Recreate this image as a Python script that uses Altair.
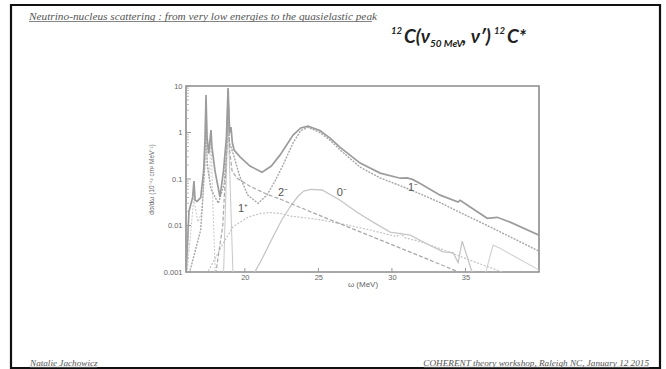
import altair as alt
import pandas as pd

# ---------------- data ----------------
# total cross section
tot_x = [16.0, 16.2, 16.45, 16.54, 16.62, 16.75, 17.0, 17.2, 17.3, 17.36, 17.43, 17.55, 17.65, 17.70, 17.76,
         17.97, 18.31, 18.55, 18.75, 18.86, 18.97, 19.06, 19.15, 19.27, 19.67, 20.35, 21.17, 21.8, 22.4, 23.28,
         23.8, 24.3, 25.1, 25.8, 26.48, 27.84, 29.2, 30.56, 31.03, 31.4, 31.92, 33.28, 34.5, 34.64, 35.32,
         36.48, 37.16, 38.04, 40.0]
tot_y = [0.0008, 0.02, 0.04, 0.09, 0.035, 0.033, 0.04, 0.15, 0.8, 6.4, 0.8, 0.35, 0.8, 1.13, 0.5,
         0.15, 0.041, 0.15, 0.8, 9.0, 1.0, 1.31, 0.6, 0.42, 0.3, 0.19, 0.14, 0.19, 0.33, 0.88,
         1.25, 1.37, 1.1, 0.76, 0.48, 0.22, 0.134, 0.104, 0.106, 0.098, 0.08, 0.045, 0.032, 0.035, 0.025,
         0.0143, 0.015, 0.0118, 0.0062]

# 1- multipole
m1_x = [16.0, 16.5, 17.0, 17.28, 17.36, 17.44, 17.7, 18.2, 18.6, 18.78, 18.86, 18.94, 19.1, 19.27, 19.67,
        20.2, 20.9, 21.5, 22.05, 22.6, 23.28, 23.8, 24.3, 25.1, 25.8, 26.48, 27.84, 29.2, 30.56, 31.92,
        33.28, 34.64, 36.48, 38.04, 40.0]
m1_y = [0.0005, 0.002, 0.008, 0.2, 5.5, 0.2, 0.06, 0.03, 0.08, 0.5, 8.0, 0.6, 0.45, 0.3, 0.11,
        0.045, 0.03, 0.045, 0.09, 0.2, 0.6, 1.1, 1.3, 1.0, 0.68, 0.42, 0.18, 0.105, 0.072, 0.048,
        0.031, 0.019, 0.0100, 0.0057, 0.0028]

# 2- multipole
m2_x = [17.9, 18.5, 18.75, 18.86, 18.97, 19.13, 19.47, 20.35, 21.5, 22.6, 23.07, 25.8, 28.5, 31.92, 34.6, 36.0]
m2_y = [0.0005, 0.01, 0.3, 8.5, 0.4, 0.15, 0.104, 0.07, 0.047, 0.035, 0.030, 0.0133, 0.006, 0.0022, 0.00098, 0.0006]

# 0- multipole
z_x = [20.6, 21.2, 21.9, 22.5, 23.07, 23.6, 24.0, 24.5, 25.25, 26.48, 27.63, 28.72, 29.88, 31.24, 32.4,
       33.48, 34.16, 34.5, 34.78, 35.6]
z_y = [0.0009, 0.002, 0.0056, 0.013, 0.025, 0.042, 0.055, 0.06, 0.058, 0.035, 0.0193, 0.0118, 0.0072, 0.0062, 0.004,
       0.0027, 0.0026, 0.0016, 0.0046, 0.0007]

# 1+ multipole
p1_x = [17.4, 18.0, 18.5, 19.2, 20.2, 21.0, 21.7, 22.5, 23.07, 25.0, 26.8, 28.5, 30.3, 30.6, 30.85, 31.92,
        33.5, 35.5, 37.5, 39.5]
p1_y = [0.0009, 0.002, 0.004, 0.0094, 0.015, 0.018, 0.019, 0.018, 0.016, 0.0135, 0.0105, 0.008, 0.0058, 0.0068,
        0.0055, 0.0045, 0.003, 0.0017, 0.001, 0.0006]

# other multipoles (low-energy resonances and high-energy structure)
a_x = [16.05, 16.3, 16.5, 16.54, 16.58, 16.8, 17.1, 17.3, 17.36, 17.42, 17.6, 17.7, 17.8, 18.0]
a_y = [0.0008, 0.006, 0.03, 0.08, 0.03, 0.012, 0.02, 0.3, 5.0, 0.3, 0.1, 1.0, 0.05, 0.0008]
b_x = [18.55, 18.8, 18.86, 18.92, 19.2]
b_y = [0.0008, 0.5, 8.0, 0.5, 0.0008]
c_x = [36.3, 36.88, 37.3, 40.0]
c_y = [0.0008, 0.0038, 0.0033, 0.0011]

# curve labels
lab_text = ["2\u207b", "0\u207b", "1\u207a", "1\u207b"]
lab_x = [22.6, 26.6, 19.88, 31.44]
lab_y = [0.049, 0.049, 0.0223, 0.064]

x_ticks = [20, 25, 30, 35]
y_ticks = [0.001, 0.01, 0.1, 1, 10]
y_minor = [m * d for d in [0.001, 0.01, 0.1, 1] for m in range(2, 10)]

# ---------------- chart ----------------
W, H = 353, 186
PL, PT = 186, 86


def df(xs, ys):
    return pd.DataFrame({"omega": xs, "sigma": ys})


xs = alt.Scale(domain=[16, 40], nice=False, zero=False)
ys = alt.Scale(type="log", domain=[0.001, 10], nice=False)

X = alt.X("omega:Q", scale=xs,
          axis=alt.Axis(values=x_ticks, title="\u03c9 (MeV)", format="d", domain=False, ticks=False,
                        grid=False, labelFontSize=7.5, labelColor="#666", labelPadding=1,
                        titleFontSize=8, titleColor="#666", titleFontWeight="normal", titlePadding=0,
                        labelFont="Liberation Sans", titleFont="Liberation Sans"))
Y = alt.Y("sigma:Q", scale=ys,
          axis=alt.Axis(values=y_ticks, title="d\u03c3/d\u03c9 (10\u207b\u2074\u00b2 cm\u00b2 MeV\u207b\u00b9)",
                        format="~g", domain=False, ticks=False, grid=False, labelFontSize=7.5,
                        labelColor="#666", labelPadding=4, titleFontSize=6.5, titleColor="#666",
                        titleFontWeight="normal", titlePadding=9,
                        labelFont="Liberation Sans", titleFont="Liberation Sans"))


def line(xv, yv, color, width, dash=None):
    kw = dict(color=color, strokeWidth=width, clip=True, interpolate="linear")
    if dash:
        kw["strokeDash"] = dash
    return alt.Chart(df(xv, yv)).mark_line(**kw).encode(x=X, y=Y)


layers = [
    line(a_x, a_y, "#c8c8c8", 1.0, [2, 1.5]),
    line(b_x, b_y, "#c8c8c8", 1.0),
    line(c_x, c_y, "#cfcfcf", 1.1),
    line(p1_x, p1_y, "#c4c4c4", 1.2, [2, 1.5]),
    line(z_x, z_y, "#c6c6c6", 1.3),
    line(m2_x, m2_y, "#a8a8a8", 1.2, [4, 2]),
    line(m1_x, m1_y, "#a6a6a6", 1.4, [2, 1.2]),
    line(tot_x, tot_y, "#9c9c9c", 1.7),
]

labels = alt.Chart(pd.DataFrame({"omega": lab_x, "sigma": lab_y, "t": lab_text})).mark_text(
    font="Liberation Sans", fontSize=11, color="#555", align="center", baseline="middle"
).encode(x=X, y=Y, text="t:N")

# inside ticks
ymaj = alt.Chart(pd.DataFrame({"sigma": y_ticks})).mark_rule(color="#999", strokeWidth=1).encode(
    y=alt.Y("sigma:Q", scale=ys), x=alt.value(0), x2=alt.value(5))
ymin = alt.Chart(pd.DataFrame({"sigma": y_minor})).mark_rule(color="#aaa", strokeWidth=0.8).encode(
    y=alt.Y("sigma:Q", scale=ys), x=alt.value(0), x2=alt.value(3))
xmaj = alt.Chart(pd.DataFrame({"omega": x_ticks})).mark_rule(color="#999", strokeWidth=1).encode(
    x=alt.X("omega:Q", scale=xs), y=alt.value(H), y2=alt.value(H - 4))

one = pd.DataFrame({"k": [0]})


def txt(s, x, y, size, **kw):
    base = dict(fontSize=size, align="left", baseline="alphabetic")
    base.update(kw)
    return alt.Chart(one).mark_text(text=s, **base).encode(x=alt.value(x - PL), y=alt.value(y - PT))


def hrule(x1, x2, y, color, w=0.8):
    return alt.Chart(one).mark_rule(color=color, strokeWidth=w).encode(
        x=alt.value(x1 - PL), x2=alt.value(x2 - PL), y=alt.value(y - PT))


border = alt.Chart(one).mark_rect(fill=None, stroke="#111", strokeWidth=2.2).encode(
    x=alt.value(11 - PL), x2=alt.value(660 - PL), y=alt.value(5 - PT), y2=alt.value(368 - PT))

serif = dict(font="Liberation Serif", fontStyle="italic", color="#555")
head = [
    txt("Neutrino-nucleus scattering : from very low energies to the quasielastic peak", 29, 20, 11.3, **serif),
    hrule(29, 372, 21.5, "#666"),
    txt("Natalie Jachowicz", 30, 366, 9.2, **serif),
    hrule(30, 97, 367.3, "#666"),
    txt("COHERENT theory workshop, Raleigh NC, January 12 2015", 649, 366, 9.2, align="right", **serif),
    hrule(424, 649, 367.3, "#666"),
]

fb = dict(font="Lato", fontStyle="italic", fontWeight="bold", color="#222")
formula = [
    txt("12", 391, 34, 9.5, **fb),
    txt("C(\u03bd", 404, 43, 19, **fb),
    txt("50 MeV", 430, 47, 10, **fb),
    txt(", \u03bd\u2032)", 462, 43, 19, **fb),
    txt("12", 494, 34, 9.5, **fb),
    txt("C*", 507, 43, 19, **fb),
]

chart = alt.layer(
    border, *head, *formula, *layers, labels, ymaj, ymin, xmaj
).properties(
    width=W, height=H,
    autosize=alt.AutoSizeParams(type="none"),
    padding={"left": PL, "top": PT, "right": 666 - PL - W, "bottom": 369 - PT - H},
    background="white",
).configure_view(stroke="#8c8c8c", strokeWidth=1.6)

chart.save("out.html", embed_options={"renderer": "svg", "actions": False})
